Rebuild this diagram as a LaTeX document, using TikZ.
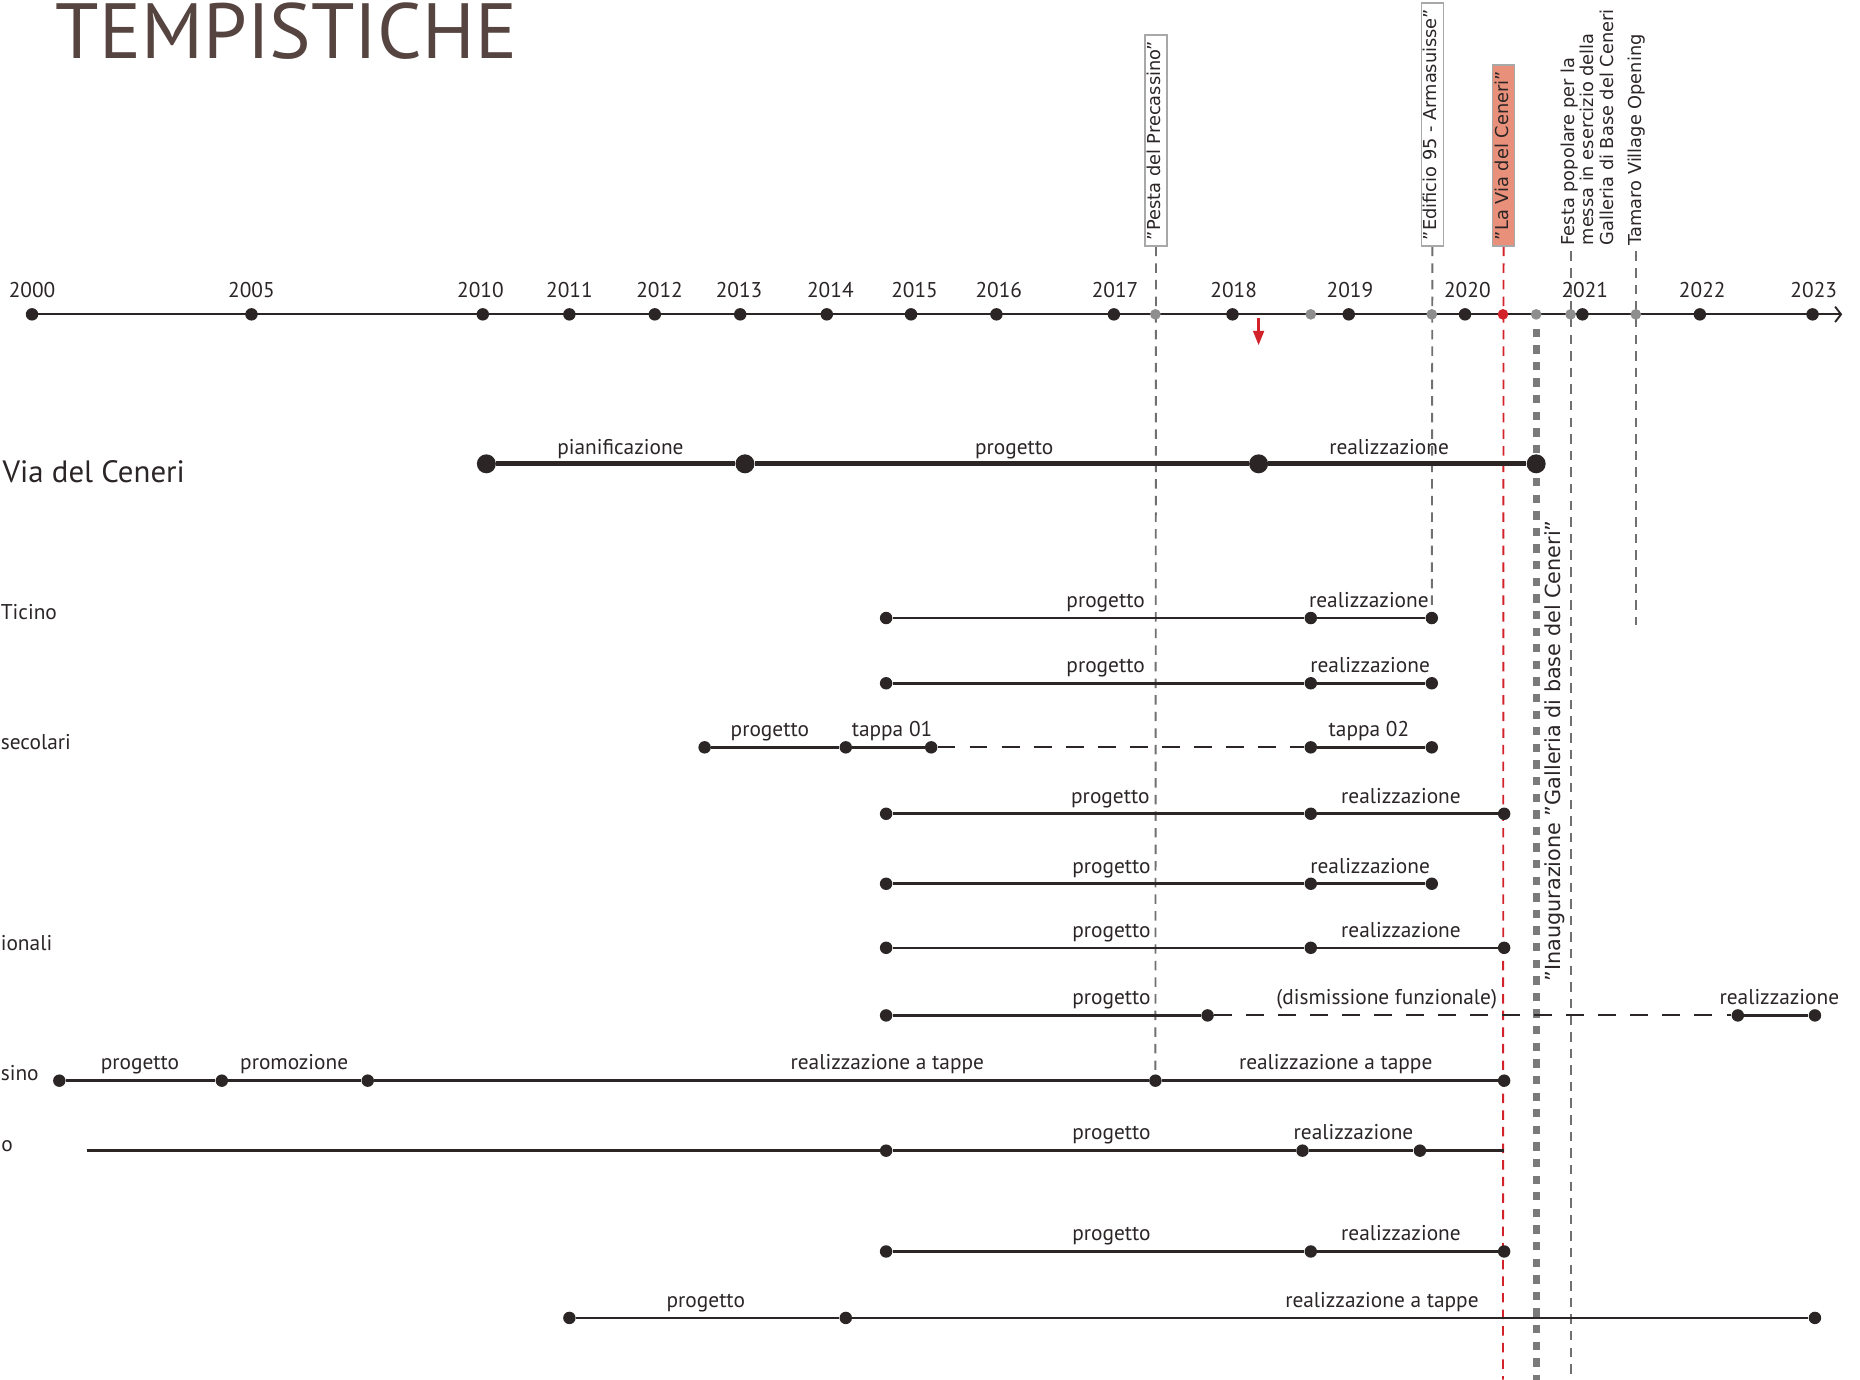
\documentclass[tikz,border=0pt]{standalone}
\usepackage{fontspec}
\setmainfont{PT Sans}
\newfontfamily\rotfont{DejaVu Sans}
\usetikzlibrary{arrows.meta}
\definecolor{ink}{HTML}{2B2526}
\definecolor{titlec}{HTML}{55443F}
\definecolor{gdotc}{HTML}{8E8E8E}
\definecolor{dashg}{HTML}{707070}
\definecolor{thickg}{HTML}{7A7A7A}
\definecolor{redc}{HTML}{D2232A}
\definecolor{salmon}{HTML}{E8907A}
\definecolor{boxg}{HTML}{A8A8A8}
\pgfdeclarelayer{bg}
\pgfsetlayers{bg,main}
\begin{document}
\begin{tikzpicture}[x=1pt,y=-1pt,
  dot/.style={circle,fill=ink,inner sep=0pt,minimum size=10.5pt},
  bigdot/.style={circle,fill=ink,inner sep=0pt,minimum size=16pt},
  gdot/.style={circle,fill=gdotc,inner sep=0pt,minimum size=9pt},
  rdot/.style={circle,fill=redc,inner sep=0pt,minimum size=9pt},
  lbl/.style={font=\fontsize{18}{20}\selectfont,text=ink,inner sep=0pt,anchor=base},
  rowlbl/.style={font=\fontsize{18}{20}\selectfont,text=ink,inner sep=0pt,anchor=base west},
  rowline/.style={draw=ink,line width=2.2pt},
  thickrow/.style={draw=ink,line width=4pt},
  rowdash/.style={draw=ink,line width=1.6pt,dash pattern=on 15pt off 12pt},
  vdash/.style={draw=dashg,line width=1.6pt,dash pattern=on 8pt off 6pt},
  rdash/.style={draw=redc,line width=1.6pt,dash pattern=on 8pt off 6pt},
  gthick/.style={draw=thickg,line width=6pt,dash pattern=on 7pt off 7pt},
  vbox/.style={rotate=90,anchor=west,draw=boxg,fill=white,line width=1.3pt,
    font=\rotfont\fontsize{15}{16}\selectfont,text=ink,inner xsep=5pt,inner ysep=2pt,
    text height=11pt,text depth=3.5pt},
  vtext/.style={rotate=90,anchor=west,font=\rotfont\fontsize{15}{16.5}\selectfont,text=ink,inner sep=0pt}
]
\useasboundingbox (0,0) rectangle (1568,1163);
\begin{pgfonlayer}{bg}
\fill[white] (0,0) rectangle (1568,1163);
\end{pgfonlayer}

% title
\node[font=\fontsize{66}{70}\selectfont,text=titlec,anchor=base west,inner sep=0pt] (title) at (47,49) {TEMPISTICHE};

% axis
\coordinate (axs) at (27,265);
\coordinate (axe) at (1553,265);
\draw[line width=1.6pt,ink,-{Straight Barb[length=5pt,width=13pt]}] (axs) -- (axe);
\foreach \yy/\xx/\lx in {2000/27/27,2005/212/212,2010/407/405,2011/480/480,2012/552/556,2013/624/623,2014/697/700,2015/768/771,2016/840/842,2017/939/940,2018/1039/1040,2019/1137/1138,2020/1235/1237,2021/1334/1336,2022/1433/1435,2023/1528/1529}{
  \node[dot] (y\yy) at (\xx,265) {};
  \node[lbl] (ly\yy) at (\lx,251) {\yy};
}
\foreach \n/\xx in {g1/974,g2/1105,g3/1207,g4/1295,g5/1324,g6/1379}
  \node[gdot] (\n) at (\xx,265) {};
\node[rdot] (gr) at (1267,265) {};
\coordinate (ra1) at (1061,268);
\coordinate (ra2) at (1061,291);
\draw[redc,line width=2pt,-{Triangle[length=12pt,width=9pt]}] (ra1) -- (ra2);

% event labels
\node[vbox] (pesta) at (974.5,208) {”Pesta del Precassino”};
\node[vbox] (edif) at (1207.5,208) {”Edificio 95 - Armasuisse”};
\node[vbox,fill=salmon] (lavia) at (1267.5,208) {”La Via del Ceneri”};
\node[vtext,align=left] (festa) at (1338,207) {Festa popolare per la\\messa in esercizio della\\Galleria di Base del Ceneri};
\node[vtext] (tamaro) at (1380,207) {Tamaro Village Opening};
\node[rotate=90,font=\rotfont\fontsize{17.5}{18}\selectfont,text=ink,inner sep=0pt] (inaug) at (1311,633) {”Inaugurazione ”Galleria di base del Ceneri”};

% row 0
\node[font=\fontsize{26}{28}\selectfont,text=ink,inner sep=0pt,anchor=base west] (t0) at (2,407) {Via del Ceneri};
\node[bigdot] (a0) at (410,391) {};
\node[bigdot] (a1) at (628,391) {};
\node[bigdot] (a2) at (1061,391) {};
\node[bigdot] (a3) at (1295,391) {};
\draw[thickrow] (a0) -- (a1) -- (a2) -- (a3);
\node[lbl] (la0) at (523,383) {pianificazione};
\node[lbl] (la1) at (855,383) {progetto};
\node[lbl] (la2) at (1171,383) {realizzazione};

% row 1
\node[rowlbl] (t1) at (0.5,522) {Ticino};
\node[dot] (b0) at (747,521) {};
\node[dot] (b1) at (1105,521) {};
\node[dot] (b2) at (1207,521) {};
\draw[rowline] (b0) -- (b1) -- (b2);
\node[lbl] (lb0) at (932,512) {progetto};
\node[lbl] (lb1) at (1154,512) {realizzazione};

% row 2
\node[dot] (c0) at (747,576) {};
\node[dot] (c1) at (1105,576) {};
\node[dot] (c2) at (1207,576) {};
\draw[rowline] (c0) -- (c1) -- (c2);
\node[lbl] (lc0) at (932,567) {progetto};
\node[lbl] (lc1) at (1155,567) {realizzazione};

% row 3
\node[rowlbl] (t3) at (0.5,632) {secolari};
\node[dot] (d0) at (594,630) {};
\node[dot] (d1) at (713,630) {};
\node[dot] (d2) at (785,630) {};
\node[dot] (d3) at (1105,630) {};
\node[dot] (d4) at (1207,630) {};
\draw[rowline] (d0) -- (d1) -- (d2);
\draw[rowdash] (d2) -- (d3);
\draw[rowline] (d3) -- (d4);
\node[lbl] (ld0) at (649,621) {progetto};
\node[lbl] (ld1) at (752,621) {tappa 01};
\node[lbl] (ld2) at (1154,621) {tappa 02};

% row 4
\node[dot] (e0) at (747,686) {};
\node[dot] (e1) at (1105,686) {};
\node[dot] (e2) at (1268,686) {};
\draw[rowline] (e0) -- (e1) -- (e2);
\node[lbl] (le0) at (936,677) {progetto};
\node[lbl] (le1) at (1181,677) {realizzazione};

% row 5
\node[dot] (f0) at (747,745) {};
\node[dot] (f1) at (1105,745) {};
\node[dot] (f2) at (1207,745) {};
\draw[rowline] (f0) -- (f1) -- (f2);
\node[lbl] (lf0) at (937,736) {progetto};
\node[lbl] (lf1) at (1155,736) {realizzazione};

% row 6
\node[rowlbl] (t6) at (0.5,801) {ionali};
\node[dot] (h0) at (747,799) {};
\node[dot] (h1) at (1105,799) {};
\node[dot] (h2) at (1268,799) {};
\draw[rowline] (h0) -- (h1) -- (h2);
\node[lbl] (lh0) at (937,790) {progetto};
\node[lbl] (lh1) at (1181,790) {realizzazione};

% row 7
\node[dot] (k0) at (747,856) {};
\node[dot] (k1) at (1018,856) {};
\node[dot] (k2) at (1465,856) {};
\node[dot] (k3) at (1530,856) {};
\draw[rowline] (k0) -- (k1);
\draw[rowdash] (k1) -- (k2);
\draw[rowline] (k2) -- (k3);
\node[lbl] (lk0) at (937,847) {progetto};
\node[lbl] (lk1) at (1169,847) {(dismissione funzionale)};
\node[lbl] (lk2) at (1500,847) {realizzazione};

% row 8
\node[rowlbl] (t8) at (0.5,911) {sino};
\node[dot] (m0) at (50,911) {};
\node[dot] (m1) at (187,911) {};
\node[dot] (m2) at (310,911) {};
\node[dot] (m3) at (974,911) {};
\node[dot] (m4) at (1268,911) {};
\draw[rowline] (m0) -- (m1) -- (m2) -- (m3) -- (m4);
\node[lbl] (lm0) at (118,902) {progetto};
\node[lbl] (lm1) at (248,902) {promozione};
\node[lbl] (lm2) at (748,902) {realizzazione a tappe};
\node[lbl] (lm3) at (1126,902) {realizzazione a tappe};

% row 9
\node[rowlbl] (t9) at (1,971) {o};
\coordinate (n0) at (73,970);
\node[dot] (n1) at (747,970) {};
\node[dot] (n2) at (1098,970) {};
\node[dot] (n3) at (1197,970) {};
\coordinate (n4) at (1268,970);
\draw[rowline] (n0) -- (n1);
\draw[draw=ink,line width=2.8pt] (n1) -- (n2) -- (n3);
\draw[rowline] (n3) -- (n4);
\node[lbl] (ln0) at (937,961) {progetto};
\node[lbl] (ln1) at (1141,961) {realizzazione};

% row 10
\node[dot] (p0) at (747,1055) {};
\node[dot] (p1) at (1105,1055) {};
\node[dot] (p2) at (1268,1055) {};
\draw[rowline] (p0) -- (p1) -- (p2);
\node[lbl] (lp0) at (937,1046) {progetto};
\node[lbl] (lp1) at (1181,1046) {realizzazione};

% row 11
\node[dot] (q0) at (480,1111) {};
\node[dot] (q1) at (713,1111) {};
\node[dot] (q2) at (1530,1111) {};
\draw[rowline] (q0) -- (q1) -- (q2);
\node[lbl] (lq0) at (595,1102) {progetto};
\node[lbl] (lq1) at (1165,1102) {realizzazione a tappe};

% vertical markers
\coordinate (redb) at (1267,1163);
\coordinate (gtt) at (1295,277);
\coordinate (gtb) at (1295,1163);
\coordinate (fet) at (1324,212);
\coordinate (feb) at (1324,1163);
\coordinate (tat) at (1379,212);
\coordinate (tab) at (1379,527);
\begin{pgfonlayer}{bg}
\draw[vdash] (pesta.west) -- (m3.center);
\draw[vdash] (edif.west) -- (b2.center);
\draw[rdash] (lavia.west) -- (redb);
\draw[gthick] (gtt) -- (gtb);
\draw[vdash] (fet) -- (feb);
\draw[vdash] (tat) -- (tab);
\end{pgfonlayer}
\end{tikzpicture}
\end{document}
